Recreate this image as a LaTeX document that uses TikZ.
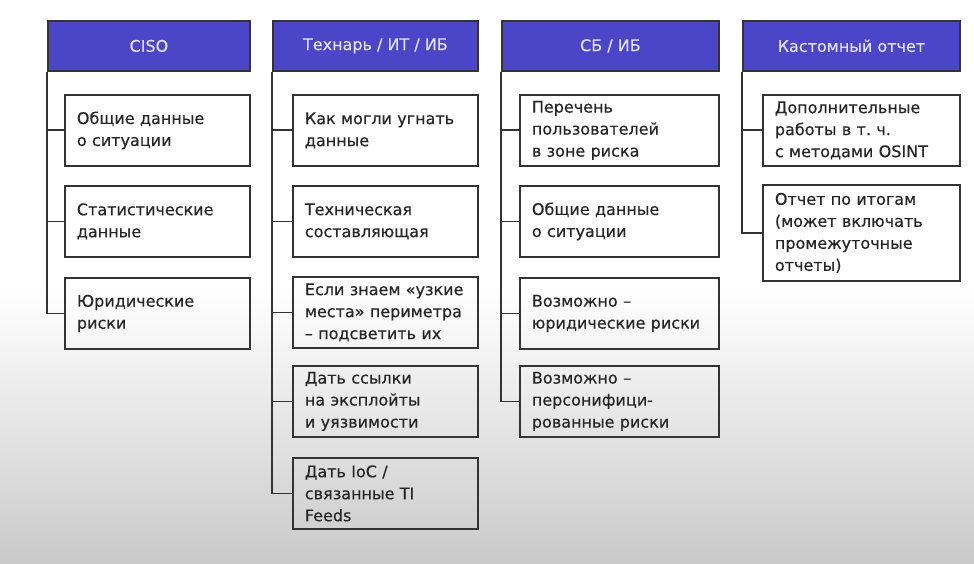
\documentclass[tikz,border=0pt]{standalone}
\usepackage{fontspec}
\setmainfont{DejaVu Sans}
\newfontfamily\boxfont[FakeBold=0.4]{DejaVu Sans}
\definecolor{headfill}{HTML}{4B45C8}
\definecolor{headtext}{HTML}{E2E0F7}
\definecolor{linegray}{HTML}{333333}
\frenchspacing
\tikzset{
  head/.style={draw=linegray, line width=1.8pt, fill=headfill, text=headtext,
    anchor=north west, minimum height=50pt, minimum width=#1, inner sep=0pt,
    font=\boxfont\fontsize{16}{18}\selectfont},
  item/.style={draw=linegray, line width=1.8pt, anchor=north west,
    minimum height=71pt, inner xsep=12pt, inner ysep=0pt, text width=#1,
    align=left, text=black!85, font=\boxfont\fontsize{16}{22}\selectfont},
  link/.style={draw=linegray, line width=1.8pt}
}
\begin{document}
\begin{tikzpicture}[x=1pt, y=-1pt]
    \fill[white] (0, 0) rectangle (974, 564);
    \shade[top color=white, bottom color=black!21] (0, 290) rectangle (974, 564);
    \useasboundingbox (0, 0) rectangle (974, 564);

    \node[head=202pt] (ciso) at (47, 20) {CISO};
    \node[item=161pt] (ciso1) at (64, 94) {Общие данные\\о ситуации};
    \node[item=161pt] (ciso2) at (64, 185) {Статистические\\данные};
    \node[item=161pt] (ciso3) at (64, 277) {Юридические\\риски};

    \node[head=205pt] (tech) at (272, 20) {Технарь / ИТ / ИБ};
    \node[item=161pt] (tech1) at (292, 94) {Как могли угнать\\данные};
    \node[item=161pt] (tech2) at (292, 185) {Техническая\\составляющая};
    \node[item=161pt] (tech3) at (292, 276) {Если знаем «узкие\\места» периметра\\– подсветить их};
    \node[item=161pt] (tech4) at (292, 365) {Дать ссылки\\на эксплойты\\и уязвимости};
    \node[item=161pt] (tech5) at (292, 457) {Дать IoC /\\связанные TI\\Feeds};

    \node[head=217pt] (sb) at (501, 20) {СБ / ИБ};
    \node[item=175pt] (sb1) at (519, 94) {Перечень\\пользователей\\в зоне риска};
    \node[item=175pt] (sb2) at (519, 185) {Общие данные\\о ситуации};
    \node[item=175pt] (sb3) at (519, 277) {Возможно –\\юридические риски};
    \node[item=175pt] (sb4) at (519, 365) {Возможно –\\персонифици-\\рованные риски};

    \node[head=217pt] (cust) at (742, 20) {Кастомный отчет};
    \node[item=173pt] (cust1) at (762, 94) {Дополнительные\\работы в т.\ ч.\\с методами OSINT};
    \node[item=173pt, minimum height=96pt] (cust2) at (762, 184) {Отчет по итогам\\(может включать\\промежуточные\\отчеты)};

    \draw[link] (ciso.south west) |- (ciso1.west);
    \draw[link] (ciso.south west) |- (ciso2.west);
    \draw[link] (ciso.south west) |- (ciso3.west);

    \draw[link] (tech.south west) |- (tech1.west);
    \draw[link] (tech.south west) |- (tech2.west);
    \draw[link] (tech.south west) |- (tech3.west);
    \draw[link] (tech.south west) |- (tech4.west);
    \draw[link] (tech.south west) |- (tech5.west);

    \draw[link] (sb.south west) |- (sb1.west);
    \draw[link] (sb.south west) |- (sb2.west);
    \draw[link] (sb.south west) |- (sb3.west);
    \draw[link] (sb.south west) |- (sb4.west);

    \draw[link] (cust.south west) |- (cust1.west);
    \draw[link] (cust.south west) |- (cust2.west);
  \end{tikzpicture}
\end{document}
